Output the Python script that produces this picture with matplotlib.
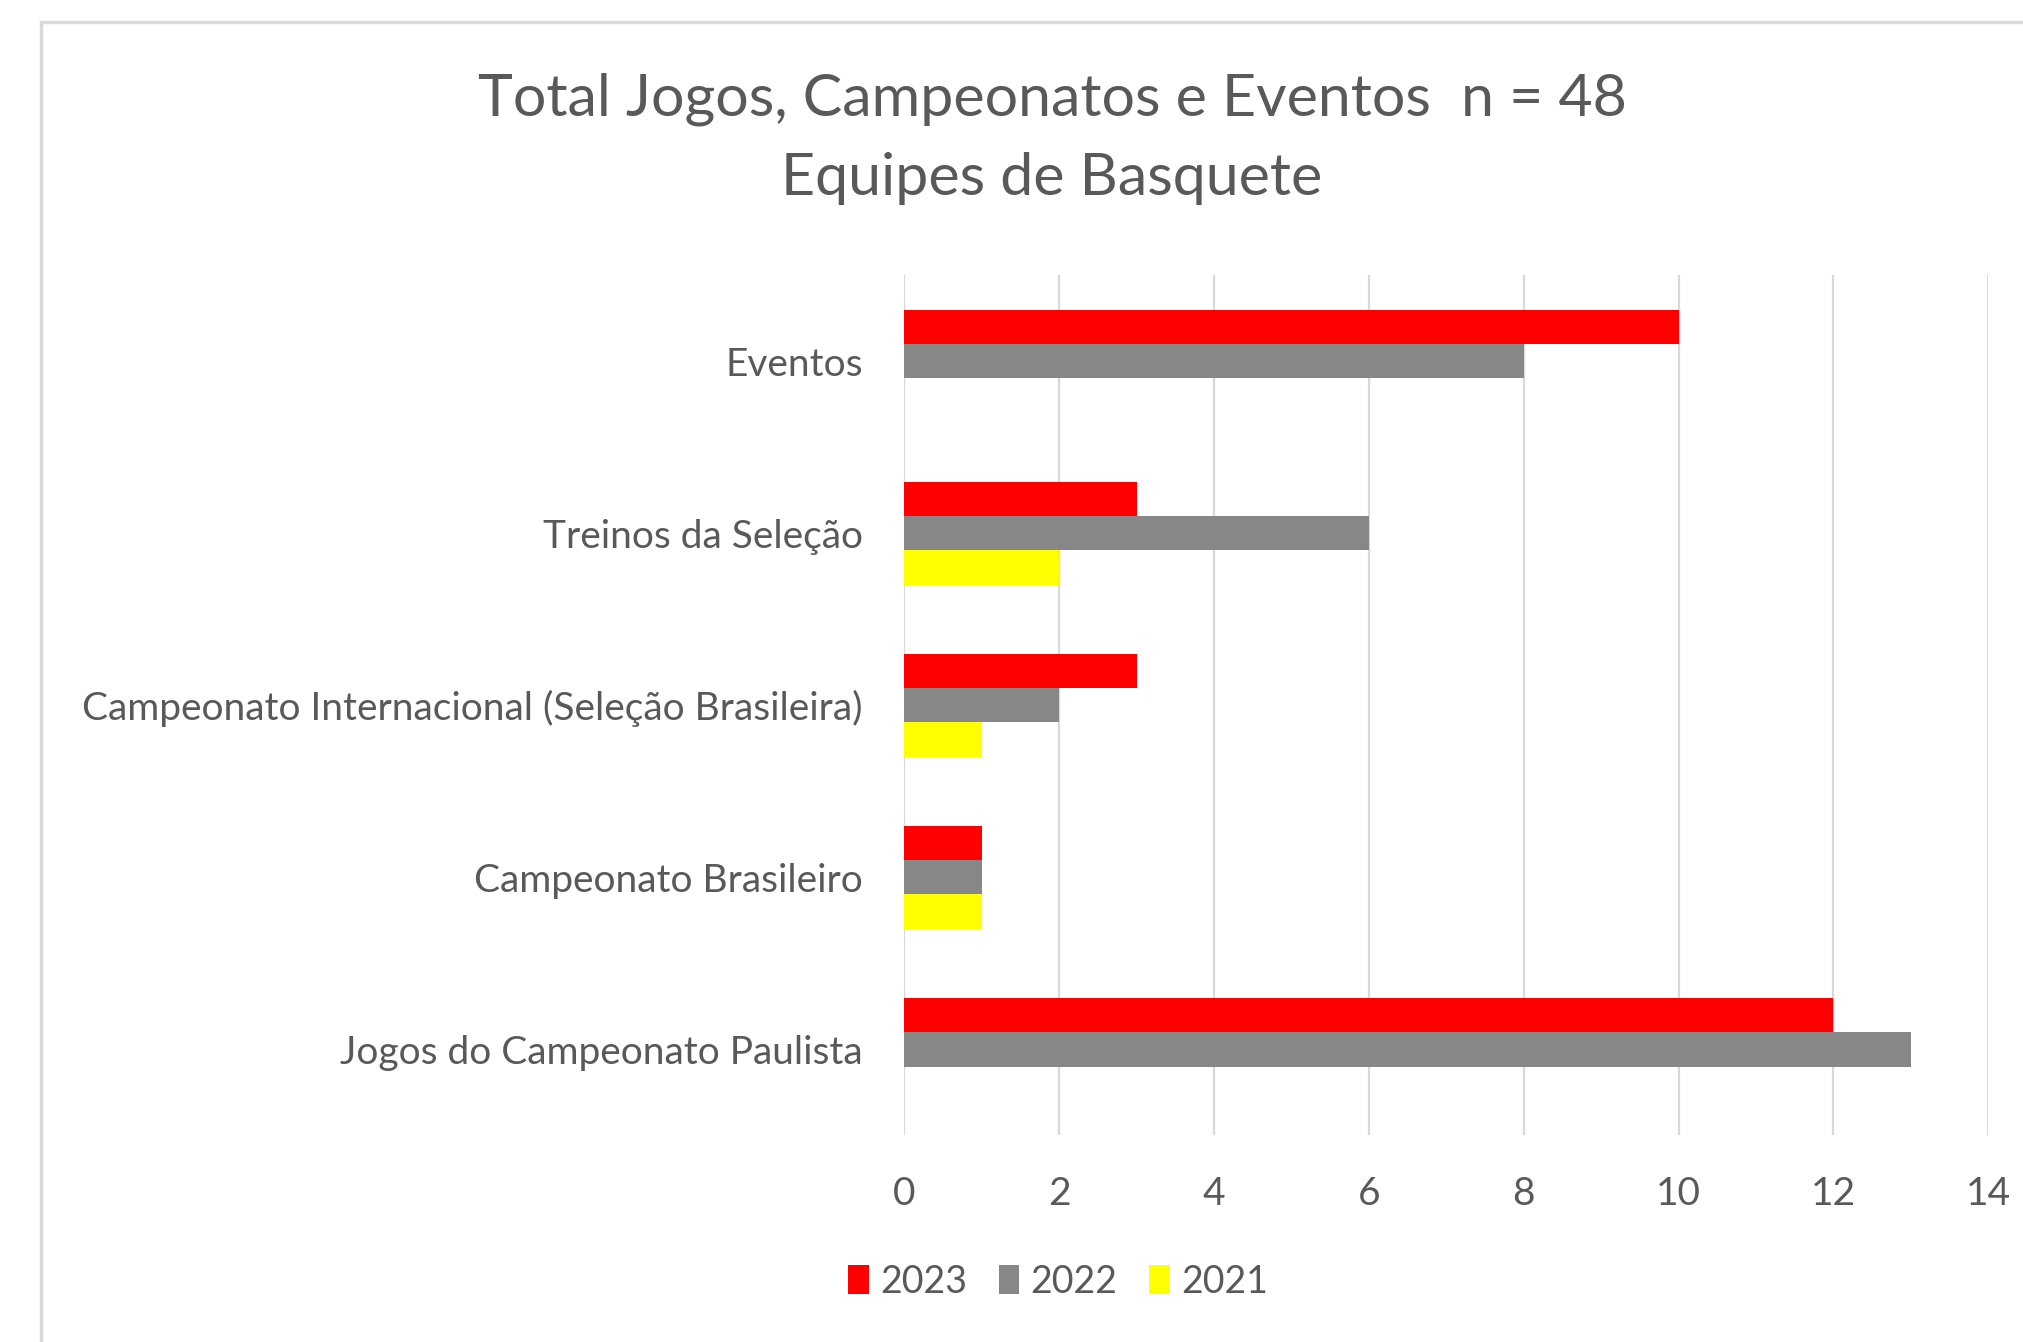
import numpy as np
import matplotlib.pyplot as plt
from matplotlib.patches import Rectangle

# categories from bottom to top
categories = ["Jogos do Campeonato Paulista",
              "Campeonato Brasileiro",
              "Campeonato Internacional (Seleção Brasileira)",
              "Treinos da Seleção",
              "Eventos"]
v2023 = [12, 1, 3, 3, 10]
v2022 = [13, 1, 2, 6, 8]
v2021 = [0, 1, 1, 2, 0]
years = ["2023", "2022", "2021"]
colors = ["#FF0000", "#878787", "#FFFF00"]
xticks = [0, 2, 4, 6, 8, 10, 12, 14]

plt.rcParams['font.family'] = ['Lato', 'DejaVu Sans']
txt = "#595959"

fig = plt.figure(figsize=(20.23, 13.42), dpi=100)
# frame of the screenshot
fig.patches.append(Rectangle((0.0204, -0.05), 1.2, 1.0336, transform=fig.transFigure,
                             fill=False, edgecolor="#D9D9D9", linewidth=2.5))

ax = fig.add_axes([0.4471, 0.154, 0.5357, 0.641])
y = np.arange(len(categories))
h = 0.2
series = [v2023, v2022, v2021]
offsets = [h, 0, -h]
for vals, off, c, lab in zip(series, offsets, colors, years):
    ax.barh(y + off, vals, height=h, color=c, label=lab, zorder=3)

ax.set_xlim(0, 14)
ax.set_ylim(-0.5, 4.5)
ax.set_xticks(xticks)
ax.set_yticks(y)
ax.set_yticklabels(categories)
ax.grid(axis='x', color="#D9D9D9", linewidth=1.6, zorder=0)
for s in ax.spines.values():
    s.set_visible(False)
ax.tick_params(axis='both', length=0, labelsize=28, labelcolor=txt)
ax.tick_params(axis='x', pad=29)
ax.tick_params(axis='y', pad=30)

fig.text(0.52, 0.926, "Total Jogos, Campeonatos e Eventos  n = 48",
         ha='center', va='center', fontsize=42.6, color=txt)
fig.text(0.52, 0.867, "Equipes de Basquete",
         ha='center', va='center', fontsize=42.6, color=txt)

fig.legend(loc='center', bbox_to_anchor=(0.523, 0.045), ncol=3, frameon=False,
           fontsize=27, labelcolor=txt, handlelength=0.55, handleheight=0.8,
           handletextpad=0.3, columnspacing=0.85)

fig.savefig("out.png", dpi=100, facecolor="white")
